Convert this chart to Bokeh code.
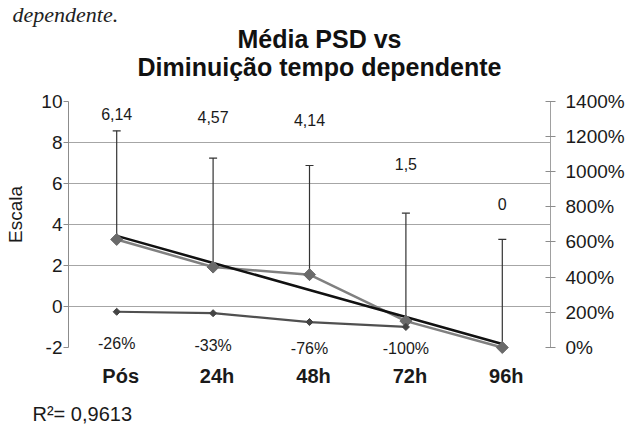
import numpy as np
from bokeh.plotting import figure
from bokeh.core.properties import value
from bokeh.models import (ColumnDataSource, LinearAxis, Range1d, FactorRange, FixedTicker,
                          NumeralTickFormatter, Whisker, TeeHead, LabelSet, Label, Title)
from bokeh.embed import file_html
from bokeh.resources import INLINE

# ---- data ----
categories = ["Pós", "24h", "48h", "72h", "96h"]
psd_mean = [6.14, 4.57, 4.14, 1.5, 0.0]          # shown on the % axis (x100%)
psd_err = [6.17, 6.19, 6.20, 6.13, 6.14]          # upper error bar
reduction_categories = ["Pós", "24h", "48h", "72h"]
reduction = [-0.26, -0.33, -0.76, -1.00]          # on the "Escala" axis
r_squared = 0.9613
left_ticks = [-2, 0, 2, 4, 6, 8, 10]
grid_ticks = [0, 2, 4, 6, 8]
right_ticks = [0, 2, 4, 6, 8, 10, 12, 14]

FONT = "Liberation Sans"
TEXT = "#1a1a1a"

# visible axis spans: left -2..10, right 0..14 (same pixels); frame extended
# above/below so titles and labels are drawn inside it
TOP = 28
BOTTOM = 25
FRAME_H = 425 - TOP - BOTTOM
PX_PER_UNIT = 246.4 / 12.0
Y_HI = 10 + (100.6 - TOP) / PX_PER_UNIT
Y_LO = Y_HI - FRAME_H / PX_PER_UNIT
to_pct = lambda y: (y + 2) * 14.0 / 12.0

p = figure(x_range=FactorRange(*categories), y_range=Range1d(Y_LO, Y_HI),
           frame_width=482, frame_height=FRAME_H, output_backend="svg", toolbar_location=None,
           min_border_left=68, min_border_right=81, min_border_top=TOP, min_border_bottom=BOTTOM)
p.extra_y_ranges = {"pct": Range1d(to_pct(Y_LO), to_pct(Y_HI))}
p.outline_line_color = None
p.background_fill_color = "white"
p.border_fill_color = "white"
p.xaxis.visible = False

# grid
p.xgrid.visible = False
p.ygrid.ticker = FixedTicker(ticks=grid_ticks)
p.ygrid.grid_line_color = "#a6a6a6"
p.ygrid.grid_line_width = 1.2

# left axis
ya = p.yaxis[0]
ya.ticker = FixedTicker(ticks=left_ticks)
ya.bounds = (-2, 10)
ya.major_label_overrides = {-2: "-2"}
ya.axis_label = "Escala"
ya.axis_label_text_font = FONT
ya.axis_label_text_font_size = "19px"
ya.axis_label_text_font_style = "normal"
ya.axis_label_text_color = TEXT
ya.axis_label_standoff = 12
ya.major_label_text_font = FONT
ya.major_label_text_font_size = "19px"
ya.major_label_text_color = TEXT
ya.major_label_standoff = 1
ya.major_tick_in = 0
ya.major_tick_out = 5
ya.minor_tick_line_color = None
ya.axis_line_color = "#8c8c8c"
ya.major_tick_line_color = "#8c8c8c"

# right axis
ra = LinearAxis(y_range_name="pct", ticker=FixedTicker(ticks=right_ticks),
                formatter=NumeralTickFormatter(format="0%"), bounds=(0, 14))
ra.major_label_text_font = FONT
ra.major_label_text_font_size = "19px"
ra.major_label_text_color = TEXT
ra.major_label_standoff = 10
ra.major_tick_in = 5
ra.major_tick_out = 5
ra.minor_tick_line_color = None
ra.axis_line_color = "#a0a0a0"
ra.major_tick_line_color = "#8c8c8c"
p.add_layout(ra, "right")

# error bars
upper = [m + e for m, e in zip(psd_mean, psd_err)]
err_src = ColumnDataSource(dict(x=categories, upper=upper, lower=psd_mean))
p.add_layout(Whisker(base="x", upper="upper", lower="lower", source=err_src,
                     y_range_name="pct", line_color="#333333", line_width=1.2,
                     upper_head=TeeHead(size=8, line_color="#333333", line_width=1.2),
                     lower_head=None))

# PSD series (gray with diamonds)
p.line(categories, psd_mean, y_range_name="pct", line_color="#808080", line_width=2.5)

# linear trend of PSD series
idx = np.arange(1, len(psd_mean) + 1)
coef = np.polyfit(idx, psd_mean, 1)
trend = np.polyval(coef, idx)
p.line(categories, trend, y_range_name="pct", line_color="#111111", line_width=2.5)

p.scatter(categories, psd_mean, y_range_name="pct", marker="square", angle=np.pi / 4,
          size=8.5, fill_color="#6a6a6a", line_color="#6a6a6a")

# reduction series (dark)
p.line(reduction_categories, reduction, line_color="#505050", line_width=2.2)
p.scatter(reduction_categories, reduction, marker="square", angle=np.pi / 4,
          size=5, fill_color="#444444", line_color="#444444")

# data labels
psd_label_y = [9.35, 9.25, 9.1, 6.96, 5.01]
psd_text = [("%g" % v).replace(".", ",") for v in psd_mean]
p.add_layout(LabelSet(x="x", y="y", text="t",
                      source=ColumnDataSource(dict(x=categories, y=psd_label_y, t=psd_text)),
                      text_align="center", text_baseline="middle", text_font=value(FONT),
                      text_font_size="16px", text_color=TEXT))

red_label_y = [-1.79, -1.9, -2.05, -2.05]
red_text = ["%d%%" % round(v * 100) for v in reduction]
p.add_layout(LabelSet(x="x", y="y", text="t",
                      source=ColumnDataSource(dict(x=reduction_categories, y=red_label_y, t=red_text)),
                      text_align="center", text_baseline="middle", text_font=value(FONT),
                      text_font_size="16px", text_color=TEXT))

# category labels (bold, under the axis)
p.add_layout(LabelSet(x="x", y="y", text="x", y_offset=-28, x_offset=4,
                      source=ColumnDataSource(dict(x=categories, y=[-2] * len(categories))),
                      text_align="center", text_baseline="middle", text_font=value(FONT),
                      text_font_size="20px", text_font_style="bold", text_color=TEXT))

# title
p.add_layout(Label(x=2.5, y=10, x_offset=10, y_offset=62, text="Média PSD vs",
                   text_align="center", text_baseline="alphabetic", text_font=FONT,
                   text_font_size="25px", text_font_style="bold", text_color="#111111"))
p.add_layout(Label(x=2.5, y=10, x_offset=10, y_offset=34, text="Diminuição tempo dependente",
                   text_align="center", text_baseline="alphabetic", text_font=FONT,
                   text_font_size="25px", text_font_style="bold", text_color="#111111"))

# fragment of the page caption visible at the top-left
p.add_layout(Title(text="dependente.", align="left", offset=-56, standoff=0,
                   vertical_align="top", text_font="Liberation Serif",
                   text_font_size="22px", text_font_style="italic",
                   text_color="#222222"), "above")

# R squared
r2_text = "R²= " + ("%.4f" % r_squared).replace(".", ",")
p.add_layout(Title(text=r2_text, align="left", offset=-36, standoff=0,
                   text_font=FONT, text_font_size="20px", text_font_style="normal",
                   text_color=TEXT), "below")

open("out.html", "w").write(file_html(p, INLINE))
